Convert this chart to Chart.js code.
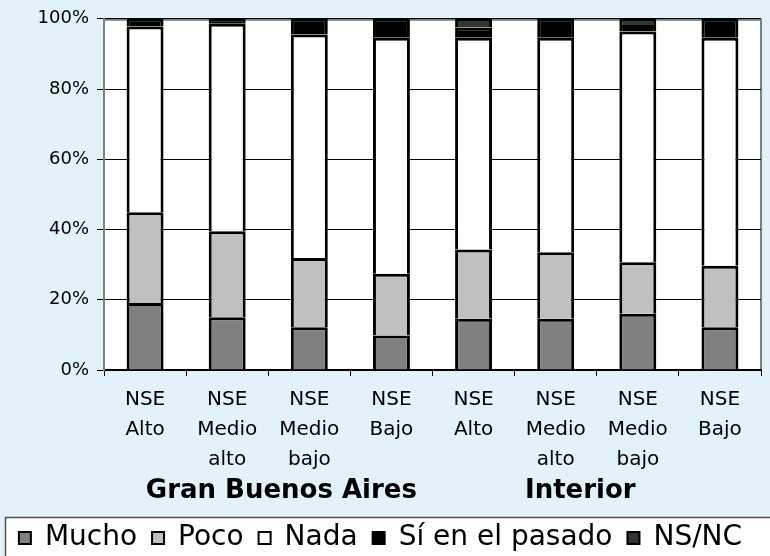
<!DOCTYPE html>
<html>
<head>
<meta charset="utf-8">
<script src="https://cdn.jsdelivr.net/npm/chart.js@4"></script>
<style>
  html, body { margin: 0; padding: 0; background: #E1F2FA; }
  #wrap { width: 770px; height: 556px; position: relative; }
</style>
</head>
<body>
<div id="wrap"><canvas id="chart"></canvas></div>
<script>
// categorías (eje x) y grupos
const categories = [
    ['NSE', 'Alto'], ['NSE', 'Medio', 'alto'], ['NSE', 'Medio', 'bajo'], ['NSE', 'Bajo'],
    ['NSE', 'Alto'], ['NSE', 'Medio', 'alto'], ['NSE', 'Medio', 'bajo'], ['NSE', 'Bajo']
];
const groups = ['Gran Buenos Aires', 'Interior'];

// porcentajes
const mucho  = [19.1, 15.0, 12.2,  9.8, 14.6, 14.6, 16.0, 12.2];
const poco   = [25.8, 24.5, 19.7, 17.6, 19.7, 18.9, 14.7, 17.5];
const nada   = [52.9, 59.1, 63.6, 67.2, 60.3, 61.1, 65.7, 64.9];
const pasado = [ 2.2,  1.4,  4.5,  5.4,  2.9,  5.4,  1.8,  5.4];
const nsnc   = [ 0,    0,    0,    0,    2.5,  0,    1.8,  0  ];

const yTicks = [0, 20, 40, 60, 80, 100];

const FONT = "'DejaVu Sans', Verdana, sans-serif";

function serie(label, data, color) {
    return {
        label: label,
        data: data,
        backgroundColor: color,
        borderColor: '#000000',
        borderWidth: { top: 3, left: 3, right: 3, bottom: 0 },
        borderSkipped: false,
        barPercentage: 0.45,
        categoryPercentage: 1.0
    };
}

// fondo blanco del área de trazado + marco gris + caja de la leyenda
const fondoPlugin = {
    id: 'fondo',
    beforeDraw(chart) {
        const { ctx, chartArea: a } = chart;
        ctx.save();
        ctx.fillStyle = '#FFFFFF';
        ctx.fillRect(a.left, a.top, a.right - a.left, a.bottom - a.top);
        ctx.strokeStyle = '#808080';
        ctx.lineWidth = 2;
        ctx.strokeRect(a.left, a.top + 1, a.right - a.left, a.bottom - a.top - 1);

        // caja de la leyenda
        ctx.fillStyle = '#FFFFFF';
        ctx.fillRect(5, 517, chart.width, 60);
        ctx.strokeStyle = '#505050';
        ctx.lineWidth = 1.5;
        ctx.strokeRect(5.5, 517.5, chart.width + 5, 60);
        ctx.restore();
    }
};

// rótulos de grupo bajo las categorías
const gruposPlugin = {
    id: 'grupos',
    afterDraw(chart) {
        const { ctx } = chart;
        const x = chart.scales.x;
        const centros = [1.66, 5.3];
        ctx.save();
        ctx.font = 'bold 26px ' + FONT;
        ctx.fillStyle = '#000000';
        ctx.textAlign = 'center';
        ctx.textBaseline = 'middle';
        groups.forEach((g, i) => {
            ctx.fillText(g, x.getPixelForValue(centros[i]), 491);
        });
        ctx.restore();
    }
};

new Chart(document.getElementById('chart'), {
    type: 'bar',
    data: {
        labels: categories,
        datasets: [
            serie('Mucho', mucho, '#808080'),
            serie('Poco', poco, '#C0C0C0'),
            serie('Nada', nada, '#FFFFFF'),
            serie('Sí en el pasado', pasado, '#000000'),
            serie('NS/NC', nsnc, '#333333')
        ]
    },
    options: {
        responsive: true,
        maintainAspectRatio: false,
        animation: false,
        // margen inferior negativo: la leyenda sobresale un poco del lienzo
        layout: { padding: { top: 15, right: 9, left: 0, bottom: -6 } },
        plugins: {
            tooltip: { enabled: false },
            legend: {
                position: 'bottom',
                labels: {
                    color: '#000000',
                    font: { family: FONT, size: 28 },
                    boxWidth: 12,
                    boxHeight: 12,
                    padding: 15,
                    generateLabels(chart) {
                        const items = Chart.defaults.plugins.legend.labels.generateLabels(chart);
                        items.forEach(it => { it.lineWidth = 2; it.strokeStyle = '#000000'; });
                        return items;
                    }
                }
            }
        },
        scales: {
            x: {
                stacked: true,
                afterFit(scale) { scale.height = 139; },
                grid: {
                    drawOnChartArea: false,
                    color: '#000000',
                    tickLength: 6
                },
                border: { color: '#000000', width: 2 },
                ticks: {
                    color: '#000000',
                    font: { family: FONT, size: 20, lineHeight: 1.5 },
                    maxRotation: 0,
                    autoSkip: false,
                    padding: 9
                }
            },
            y: {
                stacked: true,
                min: 0,
                max: 100,
                afterFit(scale) { scale.width = 104; },
                afterBuildTicks(scale) { scale.ticks = yTicks.map(v => ({ value: v })); },
                grid: { color: '#000000', lineWidth: 1, tickLength: 7 },
                border: { color: '#808080', width: 2 },
                ticks: {
                    color: '#000000',
                    font: { family: FONT, size: 18 },
                    padding: 8,
                    callback: v => v + '%'
                }
            }
        }
    },
    plugins: [fondoPlugin, gruposPlugin]
});
</script>
</body>
</html>
